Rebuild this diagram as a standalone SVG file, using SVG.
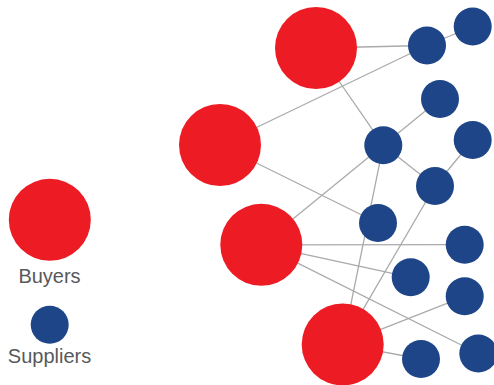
<svg xmlns="http://www.w3.org/2000/svg" width="494" height="385" viewBox="0 0 494 385">
<style>
.e{stroke:#aaaaaa;stroke-width:1.3;fill:none}
.b{fill:#ED1C24}
.s{fill:#1D4587}
.t{font-family:"Liberation Sans",Arial,sans-serif;font-size:20px;fill:#58595B;text-anchor:middle}
</style>
<rect width="494" height="385" fill="#ffffff"/>
<g id="connectors">
<line class="e" x1="316" y1="48" x2="427" y2="45.5"/>
<line class="e" x1="427" y1="45.5" x2="472.7" y2="26.5"/>
<line class="e" x1="220" y1="145" x2="427" y2="45.5"/>
<line class="e" x1="316" y1="48" x2="383.3" y2="145.2"/>
<line class="e" x1="383.3" y1="145.2" x2="440" y2="99"/>
<line class="e" x1="383.3" y1="145.2" x2="435" y2="186"/>
<line class="e" x1="435" y1="186" x2="472.7" y2="140"/>
<line class="e" x1="220" y1="145" x2="378" y2="223"/>
<line class="e" x1="261.3" y1="244.8" x2="383.3" y2="145.2"/>
<line class="e" x1="383.3" y1="145.2" x2="342.7" y2="344.4"/>
<line class="e" x1="435" y1="186" x2="342.7" y2="344.4"/>
<line class="e" x1="261.3" y1="244.8" x2="464.7" y2="244.7"/>
<line class="e" x1="261.3" y1="244.8" x2="410.7" y2="277.3"/>
<line class="e" x1="261.3" y1="244.8" x2="478.3" y2="353.5"/>
<line class="e" x1="342.7" y1="344.4" x2="464.7" y2="296.3"/>
<line class="e" x1="342.7" y1="344.4" x2="421" y2="359"/>
</g>
<g id="buyer1"><circle class="b" cx="316" cy="48" r="41"/></g>
<g id="buyer2"><circle class="b" cx="220" cy="145" r="41"/></g>
<g id="buyer3"><circle class="b" cx="261.3" cy="244.8" r="41"/></g>
<g id="buyer4"><circle class="b" cx="342.7" cy="344.4" r="41"/></g>
<g id="supplier1"><circle class="s" cx="427" cy="45.5" r="19"/></g>
<g id="supplier2"><circle class="s" cx="472.7" cy="26.5" r="19"/></g>
<g id="supplier3"><circle class="s" cx="440" cy="99" r="19"/></g>
<g id="supplier4"><circle class="s" cx="383.3" cy="145.2" r="19"/></g>
<g id="supplier5"><circle class="s" cx="472.7" cy="140" r="19"/></g>
<g id="supplier6"><circle class="s" cx="435" cy="186" r="19"/></g>
<g id="supplier7"><circle class="s" cx="378" cy="223" r="19"/></g>
<g id="supplier8"><circle class="s" cx="464.7" cy="244.7" r="19"/></g>
<g id="supplier9"><circle class="s" cx="410.7" cy="277.3" r="19"/></g>
<g id="supplier10"><circle class="s" cx="464.7" cy="296.3" r="19"/></g>
<g id="supplier11"><circle class="s" cx="421" cy="359" r="19"/></g>
<g id="supplier12"><circle class="s" cx="478.3" cy="353.5" r="19"/></g>
<g id="legend-buyers">
<circle class="b" cx="49.8" cy="219.8" r="41"/>
<text class="t" x="49.5" y="283">Buyers</text>
</g>
<g id="legend-suppliers">
<circle class="s" cx="49.7" cy="324.7" r="19"/>
<text class="t" x="49.5" y="362.5">Suppliers</text>
</g>
</svg>
